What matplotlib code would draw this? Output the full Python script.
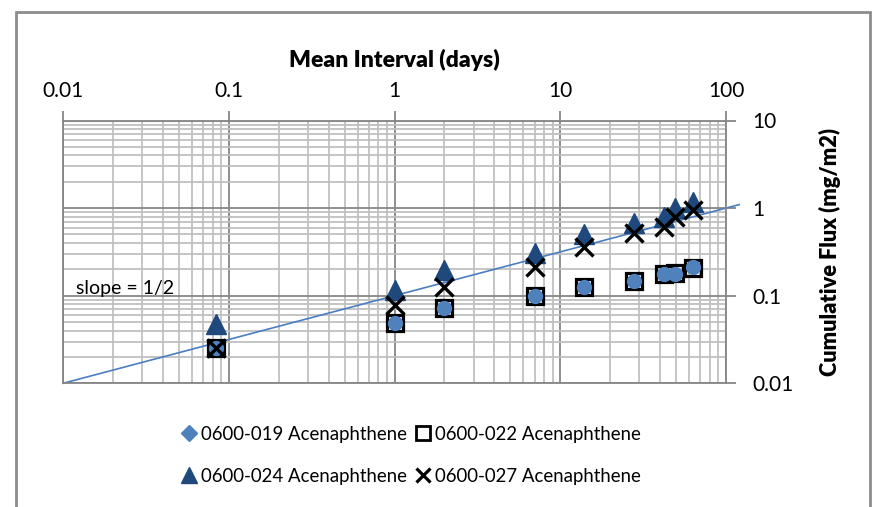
import numpy as np
import matplotlib
matplotlib.use('Agg')
import matplotlib.pyplot as plt
from matplotlib.ticker import LogLocator, FuncFormatter, NullFormatter
from matplotlib.lines import Line2D
from matplotlib.patches import Rectangle

plt.rcParams['font.family'] = ['Lato', 'DejaVu Sans']

# sampling intervals (days)
days = [2/24, 1, 2, 7, 14, 28, 42, 49, 63]

flux_019 = [0.025, 0.049, 0.073, 0.099, 0.126, 0.148, 0.176, 0.178, 0.210]
flux_022 = [0.025, 0.049, 0.073, 0.099, 0.126, 0.148, 0.176, 0.180, 0.208]
flux_024 = [0.047, 0.116, 0.196, 0.305, 0.506, 0.670, 0.800, 0.990, 1.180]
flux_027 = [0.025, 0.078, 0.127, 0.214, 0.363, 0.515, 0.614, 0.800, 0.950]

labels = ['0600-019 Acenaphthene', '0600-022 Acenaphthene',
          '0600-024 Acenaphthene', '0600-027 Acenaphthene']

# reference line with slope 1/2 on log-log axes
ref_x = np.logspace(-2, np.log10(120), 50)
ref_y = 0.1 * np.sqrt(ref_x)

blue = '#4F81BD'
navy = '#1F497D'
grid_major = '#868686'
grid_minor = '#C0C0C0'

fig = plt.figure(figsize=(8.72, 5.07), dpi=100)
ax = fig.add_axes([63/872, 1 - 383.3/507, 663/872, 262.8/507])

ax.plot(ref_x, ref_y, color='#4A7EC2', lw=1.2, clip_on=False, zorder=2)

ax.plot(days, flux_022, ls='none', marker='s', ms=12, mfc='none', mec='black', mew=2.3, zorder=3)
ax.plot(days, flux_019, ls='none', marker='o', ms=10, color=blue, zorder=4)
ax.plot(days, flux_024, ls='none', marker='^', ms=14, color=navy, zorder=3)
ax.plot(days, flux_027, ls='none', marker='x', ms=12.5, mec='black', mew=2.4, zorder=5)

ax.set_xscale('log')
ax.set_yscale('log')
ax.set_xlim(0.01, 100)
ax.set_ylim(0.01, 10)

fmt = FuncFormatter(lambda v, p: '%g' % v)
for axis in (ax.xaxis, ax.yaxis):
    axis.set_major_locator(LogLocator(base=10))
    axis.set_minor_locator(LogLocator(base=10, subs=np.arange(2, 10)))
    axis.set_major_formatter(fmt)
    axis.set_minor_formatter(NullFormatter())

ax.xaxis.tick_top()
ax.xaxis.set_label_position('top')
ax.yaxis.tick_right()
ax.yaxis.set_label_position('right')
ax.tick_params(which='major', length=7, width=1.3, color=grid_major, labelsize=15, pad=12)
ax.tick_params(which='minor', length=0)
ax.tick_params(axis='x', which='major', pad=7)

ax.grid(which='major', color=grid_major, lw=1.3)
ax.grid(which='minor', color=grid_minor, lw=1.3)
ax.set_axisbelow(True)
for s in ax.spines.values():
    s.set_color(grid_major)
    s.set_linewidth(1.3)

ax.set_xlabel('Mean Interval (days)', fontsize=16.5, fontweight='heavy', labelpad=10)
ax.set_ylabel('Cumulative Flux (mg/m2)', fontsize=15.7, fontweight='heavy', labelpad=18)

ax.text(0.012, 0.12, 'slope = 1/2', fontsize=14, ha='left', va='center')

h019 = Line2D([], [], ls='none', marker='D', ms=8, color=blue)
h022 = Line2D([], [], ls='none', marker='s', ms=10, mfc='none', mec='black', mew=2)
h024 = Line2D([], [], ls='none', marker='^', ms=11, color=navy)
h027 = Line2D([], [], ls='none', marker='x', ms=10, mec='black', mew=2.3)
# legend fills column by column, so order the entries to read across rows
fig.legend([h019, h024, h022, h027], [labels[0], labels[2], labels[1], labels[3]],
           loc='upper left', bbox_to_anchor=(165/872, 1 - 409/507),
           ncol=2, frameon=False, fontsize=13.4, handlelength=0.8, handletextpad=0.25,
           columnspacing=0.45, labelspacing=1.35)

# chart border
fig.patches.append(Rectangle((15.5/872, -0.05), 854/872, 1 - 11.5/507 + 0.05,
                             transform=fig.transFigure, fill=False,
                             ec='#8C8C8C', lw=2))

fig.savefig('out.png', dpi=100)
